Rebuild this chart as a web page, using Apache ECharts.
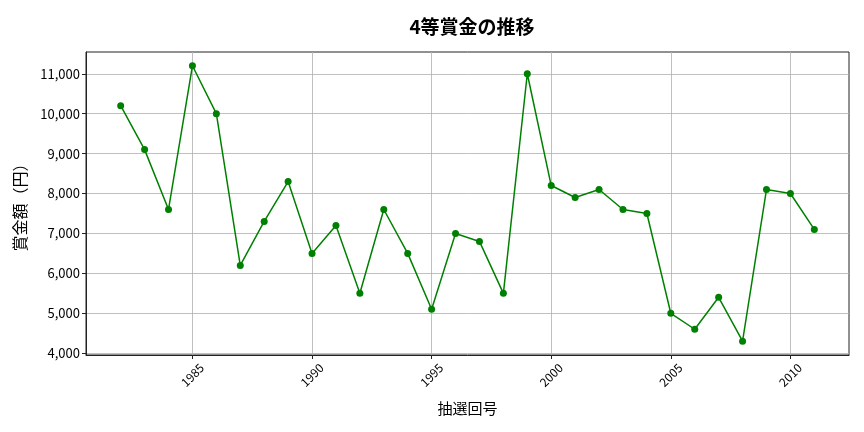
<!DOCTYPE html>
<html><head><meta charset="utf-8">
<script src="https://cdn.jsdelivr.net/npm/echarts@6/dist/echarts.min.js"></script>
<style>html,body{margin:0;padding:0;background:#fff}#c{width:864px;height:432px}</style>
</head><body><div id="c"></div>
<script>
const years = [1982,1983,1984,1985,1986,1987,1988,1989,1990,1991,1992,1993,1994,1995,1996,1997,1998,1999,2000,2001,2002,2003,2004,2005,2006,2007,2008,2009,2010,2011];
const prizes = [10200,9100,7600,11200,10000,6200,7300,8300,6500,7200,5500,7600,6500,5100,7000,6800,5500,11000,8200,7900,8100,7600,7500,5000,4600,5400,4300,8100,8000,7100];
const xTicks = [1985,1990,1995,2000,2005,2010];
const yTicks = [4000,5000,6000,7000,8000,9000,10000,11000];
const FONT = '"Noto Sans CJK JP","Noto Sans",sans-serif';
const chart = echarts.init(document.getElementById('c'));
chart.setOption({
  animation:false,
  title:{text:'4等賞金の推移',left:467,textAlign:'center',top:12,textStyle:{fontFamily:FONT,fontSize:19,fontWeight:'bold',color:'#000'}},
  grid:{left:86,right:15,top:52,bottom:77,show:true,borderColor:'#222',borderWidth:1,backgroundColor:'transparent'},
  xAxis:{type:'value',min:1980.55,max:2012.45,
    name:'抽選回号',nameLocation:'middle',nameGap:46,nameTextStyle:{fontFamily:FONT,fontSize:15,color:'#000'},
    axisLine:{show:true,onZero:false,lineStyle:{color:'#222'}},
    axisTick:{show:true,length:4,customValues:xTicks,lineStyle:{color:'#222'}},
    axisLabel:{customValues:xTicks,rotate:45,align:'center',verticalAlign:'middle',fontFamily:FONT,fontSize:12,color:'#000',margin:20,formatter:v=>String(v)},
    splitLine:{show:true,lineStyle:{color:'#b0b0b0',width:0.8}}},
  yAxis:{type:'value',min:3955,max:11545,
    name:'賞金額（円）',nameLocation:'middle',nameGap:58,nameTextStyle:{fontFamily:FONT,fontSize:16,color:'#000'},
    axisLine:{show:true,lineStyle:{color:'#222'}},
    axisTick:{show:true,length:4,customValues:yTicks,lineStyle:{color:'#222'}},
    axisLabel:{customValues:yTicks,fontFamily:FONT,fontSize:13,color:'#000',margin:6,formatter:v=>v.toLocaleString('en-US')},
    splitLine:{show:true,lineStyle:{color:'#b0b0b0',width:0.8}}},
  series:[{type:'line',data:years.map((y,i)=>[y,prizes[i]]),
    symbol:'circle',symbolSize:7,itemStyle:{color:'#008000'},lineStyle:{color:'#008000',width:1.5}}]
});
</script></body></html>
